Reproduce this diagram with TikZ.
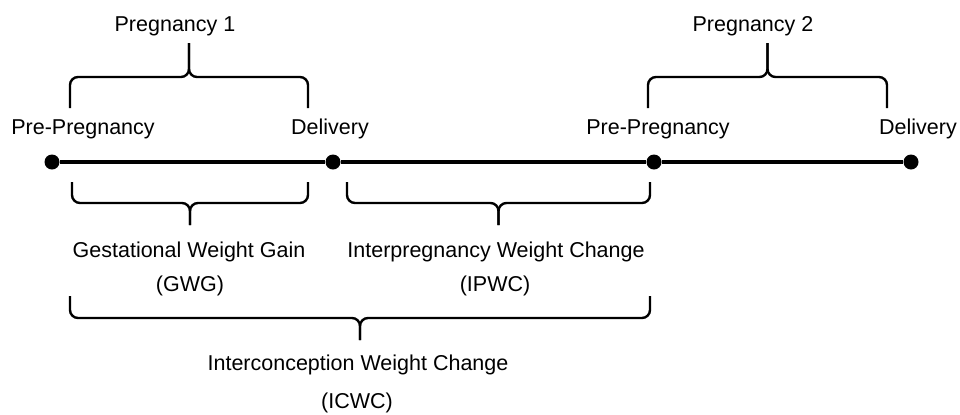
\documentclass[tikz,border=0pt]{standalone}
\usepackage{fontspec}
\setmainfont{Liberation Sans}
\usetikzlibrary{positioning}
\usetikzlibrary{calc}
\tikzset{
  event/.style={circle,fill=black,inner sep=0,minimum size=7.5pt},
  timeline/.style={line width=2.2pt},
  curly/.style={line width=1.2pt,rounded corners=4pt},
  lbl/.style={anchor=base,inner sep=0,font=\fontsize{10.75}{13}\selectfont},
}
\newcommand{\spanbrace}[5]{% #1: left end, #2: right end, #3: name, #4: bar offset, #5: tip offset
    \coordinate (#3-bar) at ($(#1)!.5!(#2)+(0,#4)$);
    \coordinate (#3-tip) at ($(#3-bar)+(0,#5)$);
    \draw[curly] (#1) |- (#3-bar) -- (#3-tip);
    \draw[curly] (#2) |- (#3-bar) -- (#3-tip);
}

\begin{document}
\begin{tikzpicture}[x=0.5pt,y=-0.5pt]
    \useasboundingbox (0,0) rectangle (960,414);

    % ------- timeline -------
    \node[event] (pre1) at (52,162) {};
    \node[event] (del1) at (333,162) {};
    \node[event] (pre2) at (654,162) {};
    \node[event] (del2) at (911,162) {};
    \draw[timeline] (pre1) -- (del1) -- (pre2) -- (del2);

    \node[lbl] (pre1-lbl) at (83,134)  {Pre-Pregnancy};
    \node[lbl] (del1-lbl) at (330,134) {Delivery};
    \node[lbl] (pre2-lbl) at (658,134) {Pre-Pregnancy};
    \node[lbl] (del2-lbl) at (918,134) {Delivery};

    % ------- braces above -------
    \coordinate (preg1-l) at (70,108);
    \coordinate (preg1-r) at (308,108);
    \coordinate (preg2-l) at (648,108);
    \coordinate (preg2-r) at (887,108);
    \spanbrace{preg1-l}{preg1-r}{preg1}{-31}{-34}
    \spanbrace{preg2-l}{preg2-r}{preg2}{-31}{-34}

    \node[lbl] (preg1-lbl) at (175,31) {Pregnancy 1};
    \node[lbl] (preg2-lbl) at (753,31) {Pregnancy 2};

    % ------- braces below -------
    \coordinate (gwg-l) at (72,182);
    \coordinate (gwg-r) at (308,182);
    \coordinate (ipwc-l) at (347,182);
    \coordinate (ipwc-r) at (650,182);
    \coordinate (icwc-l) at (70,296);
    \coordinate (icwc-r) at (650,296);
    \spanbrace{gwg-l}{gwg-r}{gwg}{21}{22}
    \spanbrace{ipwc-l}{ipwc-r}{ipwc}{21}{22}
    \spanbrace{icwc-l}{icwc-r}{icwc}{22}{22}

    % ------- labels -------
    \node[lbl] (gwg-lbl)   at (189,257) {Gestational Weight Gain};
    \node[lbl] (gwg-abbr)  at (190,291) {(GWG)};
    \node[lbl] (ipwc-lbl)  at (496,257) {Interpregnancy Weight Change};
    \node[lbl] (ipwc-abbr) at (495,291) {(IPWC)};
    \node[lbl] (icwc-lbl)  at (358,370) {Interconception Weight Change};
    \node[lbl] (icwc-abbr) at (357,408) {(ICWC)};
\end{tikzpicture}
\end{document}
